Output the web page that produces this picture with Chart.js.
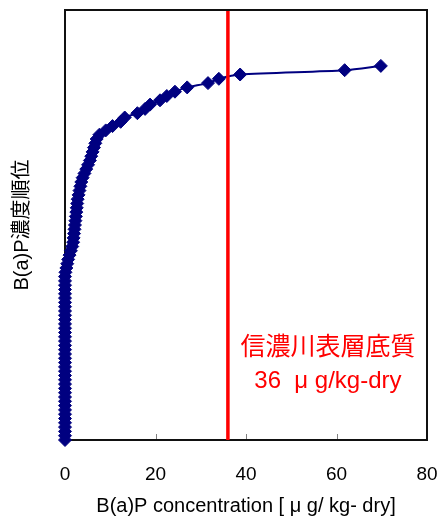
<!DOCTYPE html>
<html>
<head>
<meta charset="utf-8">
<script src="https://cdn.jsdelivr.net/npm/chart.js@4.4.1/dist/chart.umd.min.js"></script>
<style>
  html, body { margin: 0; padding: 0; background: #fff; }
  #wrap { width: 439px; height: 520px; }
</style>
</head>
<body>
<div id="wrap"><canvas id="chart" width="439" height="520"></canvas></div>
<script>
  // B(a)P concentration [ug/kg-dry], sorted ascending (rank = position in list)
  const concentrations = [
    0, 0, 0, 0, 0, 0, 0, 0, 0, 0,
    0, 0, 0, 0, 0, 0, 0, 0, 0, 0,
    0, 0, 0, 0, 0, 0, 0, 0, 0, 0,
    0, 0, 0, 0, 0, 0, 0, 0, 0, 0.1,
    0.3, 0.5, 0.7, 1.0, 1.3, 1.6, 1.8, 1.9, 2.0, 2.1,
    2.2, 2.3, 2.4, 2.5, 2.6, 2.7, 2.8, 3.0, 3.2, 3.4,
    3.6, 3.9, 4.3, 4.7, 5.1, 5.5, 5.8, 6.1, 6.4, 6.7,
    7.0, 7.6, 9.0, 10.5, 12.3, 13.2, 16.0, 17.7, 18.8, 21.0,
    22.5, 24.3, 27.0, 31.6, 34.0, 38.7, 61.8, 69.8
  ];
  const xTicks = [0, 20, 40, 60, 80];
  const rankRange = [0, 100];

  // Shinano river surface sediment reference value
  const guideValue = 36;
  const guideLabel = ['信濃川表層底質', '36  μ g/kg-dry'];

  const navy = '#000080';
  const points = concentrations.map((c, i) => ({ x: c, y: i }));

  const overlay = {
    id: 'overlay',
    beforeDatasetsDraw(chart) {
      const { ctx, chartArea: a, scales: { x } } = chart;
      ctx.save();
      // frame
      ctx.strokeStyle = '#111';
      ctx.lineWidth = 2;
      ctx.strokeRect(a.left, a.top, a.right - a.left, a.bottom - a.top);
      // small inward ticks on the bottom axis
      ctx.strokeStyle = '#808080';
      ctx.lineWidth = 1;
      ctx.beginPath();
      xTicks.slice(1, -1).forEach(v => {
        const px = Math.round(x.getPixelForValue(v)) + 0.5;
        ctx.moveTo(px, a.bottom - 1);
        ctx.lineTo(px, a.bottom - 6);
      });
      ctx.stroke();
      ctx.restore();
    },
    afterDatasetsDraw(chart) {
      const { ctx, chartArea: a, scales: { x } } = chart;
      ctx.save();

      // guide line
      const gx = x.getPixelForValue(guideValue);
      ctx.strokeStyle = '#ff0000';
      ctx.lineWidth = 3.5;
      ctx.beginPath();
      ctx.moveTo(gx, a.top + 1);
      ctx.lineTo(gx, a.bottom);
      ctx.stroke();

      // guide label
      const cx = gx + 100;
      ctx.fillStyle = '#ff0000';
      ctx.textAlign = 'center';
      ctx.textBaseline = 'middle';
      ctx.font = '25px "Noto Sans CJK JP", sans-serif';
      ctx.fillText(guideLabel[0], cx, a.bottom - 95);
      ctx.font = '24px "Liberation Sans", "Noto Sans CJK JP", sans-serif';
      ctx.fillText(guideLabel[1], cx, a.bottom - 59);

      ctx.restore();
    }
  };

  new Chart(document.getElementById('chart'), {
    type: 'scatter',
    data: {
      datasets: [{
        data: points,
        showLine: true,
        clip: false,
        borderColor: navy,
        borderWidth: 2,
        tension: 0.25,
        pointStyle: 'rectRot',
        pointRadius: 6.5,
        pointBorderWidth: 1,
        pointBackgroundColor: navy,
        pointBorderColor: navy
      }]
    },
    options: {
      responsive: false,
      animation: false,
      devicePixelRatio: 1,
      layout: { padding: { top: 10, right: 12, bottom: 0, left: 0 } },
      plugins: { legend: { display: false }, tooltip: { enabled: false } },
      scales: {
        x: {
          type: 'linear',
          min: xTicks[0],
          max: xTicks[xTicks.length - 1],
          afterBuildTicks: s => { s.ticks = xTicks.map(v => ({ value: v })); },
          afterFit: s => { s.height = 80; s.paddingLeft = 0; s.paddingRight = 0; },
          grid: { display: false },
          border: { display: false },
          ticks: {
            padding: 15,
            color: '#000',
            font: { family: '"Liberation Sans", Arial, sans-serif', size: 19 }
          },
          title: {
            display: true,
            text: 'B(a)P concentration [ μ g/ kg- dry]',
            color: '#000',
            padding: { top: 0, bottom: 2 },
            font: { family: '"Liberation Sans", "Noto Sans CJK JP", sans-serif', size: 20 }
          }
        },
        y: {
          type: 'linear',
          min: rankRange[0],
          max: rankRange[1],
          afterFit: s => { s.width = 65; },
          grid: { display: false },
          border: { display: false },
          ticks: { display: false },
          title: {
            display: true,
            text: 'B(a)P濃度順位',
            color: '#000',
            padding: { top: 10, bottom: 0 },
            font: { family: '"Liberation Sans", "Noto Sans CJK JP", sans-serif', size: 20 }
          }
        }
      }
    },
    plugins: [overlay]
  });
</script>
</body>
</html>
